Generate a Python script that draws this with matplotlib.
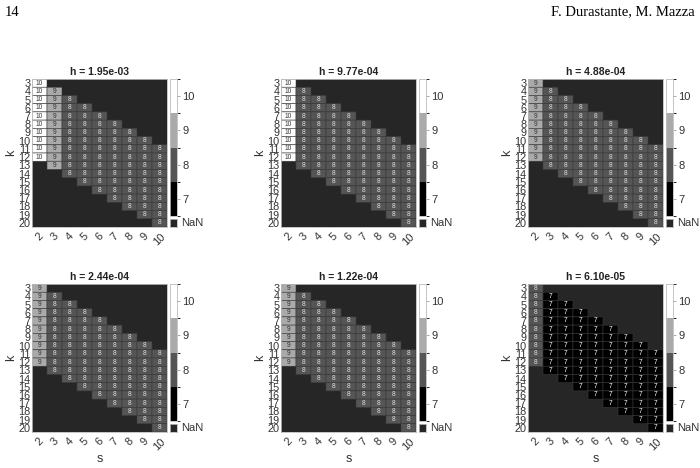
import matplotlib
matplotlib.use("Agg")
import matplotlib.pyplot as plt
import numpy as np
from matplotlib.colors import ListedColormap, BoundaryNorm

# grid of the tables
s_vals = [2, 3, 4, 5, 6, 7, 8, 9, 10]
k_vals = list(range(3, 21))
# first / last k that has a value in each s column
k_first = [3, 4, 5, 6, 7, 8, 9, 10, 11]
k_last = [12, 13, 14, 15, 16, 17, 18, 19, 20]

titles = ["h = 1.95e-03", "h = 9.77e-04", "h = 4.88e-04",
          "h = 2.44e-04", "h = 1.22e-04", "h = 6.10e-05"]
# value in each s column (same for every valid k)
vals_p1 = [10, 9, 8, 8, 8, 8, 8, 8, 8]
vals_p2 = [10, 8, 8, 8, 8, 8, 8, 8, 8]
vals_p3 = [9, 8, 8, 8, 8, 8, 8, 8, 8]
vals_p4 = [9, 8, 8, 8, 8, 8, 8, 8, 8]
vals_p5 = [9, 8, 8, 8, 8, 8, 8, 8, 8]
vals_p6 = [8, 7, 7, 7, 7, 7, 7, 7, 7]
panels = [vals_p1, vals_p2, vals_p3, vals_p4, vals_p5, vals_p6]

cb_levels = [7, 8, 9, 10]
cb_colors = ["#000000", "#555555", "#aaaaaa", "#ffffff"]
nan_color = "#262626"
txt_colors = {7: "#ffffff", 8: "#dddddd", 9: "#333333", 10: "#333333"}

plt.rcParams["font.family"] = ["Liberation Sans", "DejaVu Sans"]
cmap = ListedColormap(cb_colors)
norm = BoundaryNorm([6.5, 7.5, 8.5, 9.5, 10.5], cmap.N)

fig = plt.figure(figsize=(7, 4.68), dpi=100)
fig.text(5 / 700, 1 - 12 / 468, "14", family="Liberation Serif", fontsize=10.5, va="center")
fig.text(695 / 700, 1 - 12 / 468, "F. Durastante, M. Mazza", family="Liberation Serif",
         fontsize=10.5, va="center", ha="right")

lefts = [32, 281, 528]
tops = [79, 284]
W, H = 135, 148

def build(colvals):
    m = np.full((len(k_vals), len(s_vals)), np.nan)
    for j, s in enumerate(s_vals):
        for i, k in enumerate(k_vals):
            if k_first[j] <= k <= k_last[j]:
                m[i, j] = colvals[j]
    return np.ma.masked_invalid(m)

for p, colvals in enumerate(panels):
    r, c = divmod(p, 3)
    x0, y0 = lefts[c], tops[r]
    ax = fig.add_axes([x0 / 700, 1 - (y0 + H) / 468, W / 700, H / 468])
    ax.set_facecolor(nan_color)
    m = build(colvals)
    xe = np.arange(len(s_vals) + 1) + s_vals[0] - 0.5
    ye = np.arange(len(k_vals) + 1) + k_vals[0] - 0.5
    # pcolor skips masked cells, so the NaN area stays plain
    ax.pcolor(xe, ye, m, cmap=cmap, norm=norm, edgecolor="#3a3a3a", linewidth=0.4)
    for i, k in enumerate(k_vals):
        for j, s in enumerate(s_vals):
            if not np.ma.is_masked(m[i, j]):
                v = int(m[i, j])
                ax.text(s, k, str(v), ha="center", va="center", fontsize=4.8,
                        color=txt_colors[v])
    ax.set_xlim(xe[0], xe[-1])
    ax.set_ylim(ye[-1], ye[0])
    ax.set_xticks(s_vals)
    ax.set_xticklabels([str(s) for s in s_vals], rotation=45, ha="center", fontsize=8,
                       color="#333333")
    ax.set_yticks(k_vals)
    ax.set_yticklabels([str(k) for k in k_vals], fontsize=7.8, color="#333333")
    ax.tick_params(length=0, pad=1)
    ax.tick_params(axis="x", pad=3)
    for sp in ax.spines.values():
        sp.set_color("#bbbbbb")
        sp.set_linewidth(0.6)
    ax.set_ylabel("k", fontsize=9, color="#333333", labelpad=1)
    if r == 1:
        ax.set_xlabel("s", fontsize=9, color="#333333", labelpad=1)
    ax.set_title(titles[p], fontsize=7.5, fontweight="bold", color="#222222", pad=3)

    # colorbar
    cax = fig.add_axes([(x0 + W + 3) / 700, 1 - (y0 + 137) / 468, 7 / 700, 137 / 468])
    cb = fig.colorbar(plt.cm.ScalarMappable(norm=norm, cmap=cmap), cax=cax, ticks=cb_levels)
    cb.outline.set_edgecolor("#bbbbbb")
    cb.outline.set_linewidth(0.6)
    cax.tick_params(labelsize=8, length=2, width=0.5, color="#888888", labelcolor="#333333", pad=2)
    # NaN swatch
    nax = fig.add_axes([(x0 + W + 3) / 700, 1 - (y0 + H) / 468, 7 / 700, 8 / 468])
    nax.set_facecolor(nan_color)
    nax.set_xticks([])
    nax.set_yticks([])
    for sp in nax.spines.values():
        sp.set_color("#bbbbbb")
        sp.set_linewidth(0.6)
    nax.text(1.6, 0.5, "NaN", transform=nax.transAxes, fontsize=8, color="#333333",
             va="center", ha="left")

fig.savefig("out.png", dpi=100)
